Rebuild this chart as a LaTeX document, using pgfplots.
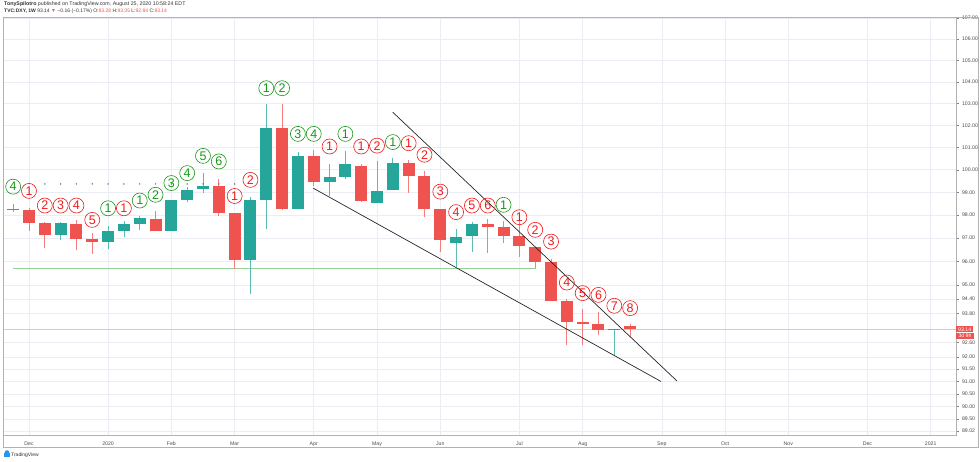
\documentclass[border=0pt]{standalone}
\usepackage{pgfplots}
\pgfplotsset{compat=1.18}
\usepackage{pgfplotstable}
\usepackage{fontspec}
\setmainfont{Liberation Sans}
\definecolor{candgreen}{RGB}{38,166,154}
\definecolor{candred}{RGB}{239,83,80}
\definecolor{tdgreen}{RGB}{25,150,25}
\definecolor{tdred}{RGB}{240,25,25}
\definecolor{gridc}{RGB}{234,238,244}
\definecolor{tdst}{RGB}{150,210,150}
\definecolor{tvblue}{RGB}{33,150,243}

\pgfplotstableread{
w O H L C
-1 98.22 98.49 98.14 98.25
0 98.23 98.33 97.33 97.65
1 97.65 97.68 96.57 97.14
2 97.14 97.69 96.90 97.65
3 97.62 97.79 96.49 96.98
4 96.98 97.22 96.32 96.85
5 96.85 97.54 96.52 97.30
6 97.30 97.72 97.04 97.60
7 97.62 97.97 97.36 97.87
8 97.85 98.16 97.33 97.33
9 97.33 98.67 97.33 98.67
10 98.67 99.23 98.57 99.11
11 99.14 99.85 98.99 99.28
12 99.28 99.60 97.94 98.09
13 98.09 98.09 95.68 96.07
14 96.07 98.79 94.62 98.67
15 98.67 102.97 97.40 101.90
16 101.90 102.97 98.22 98.27
17 98.27 100.81 98.27 100.63
18 100.62 100.89 99.28 99.45
19 99.45 100.26 98.84 99.67
20 99.67 100.84 99.60 100.25
21 100.17 100.26 98.59 98.64
22 98.52 100.37 98.52 99.06
23 99.08 100.52 99.08 100.32
24 100.32 100.44 98.96 99.74
25 99.74 99.95 97.91 98.27
26 98.27 98.27 96.42 96.90
27 96.81 97.40 95.75 97.04
28 97.07 97.68 96.40 97.62
29 97.62 97.82 96.35 97.47
30 97.46 97.76 96.78 97.11
31 97.11 97.72 96.21 96.64
32 96.61 96.61 95.71 95.98
33 95.98 96.11 94.33 94.33
34 94.33 94.40 92.50 93.44
35 93.46 93.98 92.50 93.37
36 93.37 93.88 92.91 93.09
37 93.09 93.17 92.02 93.17
38 93.28 93.35 92.84 93.14
}\ohlc

\pgfplotstableread{
w p n
-1 99.25 4
5 98.30 1
7 98.64 1
8 98.89 2
9 99.41 3
10 99.85 4
11 100.62 5
12 100.37 6
15 103.70 1
16 103.70 2
17 101.61 3
18 101.61 4
20 101.61 1
23 101.24 1
30 98.45 1
}\greenlabels

\pgfplotstableread{
w p n
0 99.06 1
1 98.42 2
2 98.42 3
3 98.42 4
4 97.79 5
6 98.30 1
13 98.84 1
14 99.55 2
19 101.04 1
21 101.04 1
22 101.08 2
24 101.19 1
25 100.67 2
26 99.03 3
27 98.13 4
28 98.42 5
29 98.42 6
31 97.91 1
32 97.36 2
33 96.85 3
34 95.10 4
35 94.65 5
36 94.58 6
37 94.12 7
38 94.02 8
}\redlabels

\pgfplotstablegetrowsof{\ohlc}
\pgfmathtruncatemacro\nrows{\pgfplotsretval-1}

\begin{document}
\begin{tikzpicture}
\begin{axis}[
  at={(3pt,26pt)}, anchor=south west,
  scale only axis, width=953pt, height=418pt,
  ymode=log,
  xmin=-1.643, xmax=58.6, ymin=88.86, ymax=107.05,
  clip=false,
  axis line style={draw=black!30, line width=0.5pt},
  xtick={0,5,9,13,18,22,26,31,35,40,44,48,53,57},
  xticklabels={Dec,2020,Feb,Mar,Apr,May,Jun,Jul,Aug,Sep,Oct,Nov,Dec,2021},
  ytick={89.02,89.5,90,90.5,91,91.5,92,92.6,93.8,94.4,95,96,97,98,99,100,101,102,103,104,105,106,107},
  yticklabels={89.02,89.50,90.00,90.50,91.00,91.50,92.00,92.60,93.80,94.40,95.00,96.00,97.00,98.00,99.00,100.00,101.00,102.00,103.00,104.00,105.00,106.00,107.00},
  yticklabel pos=right, ytick pos=right,
  xmajorgrids, ymajorgrids,
  major grid style={draw=gridc, line width=0.5pt},
  tick label style={font=\fontsize{5.2}{6}\selectfont, text=black!70},
  xtick style={draw=none},
  ytick style={draw=black!50, line width=0.4pt},
  tick align=outside, major tick length=2.5pt,
  minor tick num=0,
  xticklabel style={yshift=-1pt},
]
% TDST support line
\addplot[tdst, line width=0.7pt] coordinates {(-1,95.72) (32,95.72) (32,95.98)};
% dotted resistance
\addplot[only marks, mark=*, mark size=0.45pt, black!60] coordinates {(1,99.37) (2,99.37) (3,99.37) (4,99.37) (5,99.37) (6,99.37) (7,99.37) (8,99.37) (9,99.37) (10,99.37) (11,99.37) (12,99.37) (13,99.37)};
% last price line
\addplot[candred!40, line width=0.5pt] coordinates {(-1.643,93.14) (58.6,93.14)};

\pgfplotsforeachungrouped \i in {0,...,\nrows}{%
  \pgfplotstablegetelem{\i}{w}\of\ohlc \let\cw\pgfplotsretval
  \pgfplotstablegetelem{\i}{O}\of\ohlc \let\co\pgfplotsretval
  \pgfplotstablegetelem{\i}{H}\of\ohlc \let\ch\pgfplotsretval
  \pgfplotstablegetelem{\i}{L}\of\ohlc \let\cl\pgfplotsretval
  \pgfplotstablegetelem{\i}{C}\of\ohlc \let\cc\pgfplotsretval
  \ifdim\cc pt<\co pt \def\ccol{candred}\else\def\ccol{candgreen}\fi
  \edef\temp{%
    \noexpand\addplot[\ccol!75, line width=0.8pt] coordinates {(\cw,\cl) (\cw,\ch)};
    \noexpand\addplot[\ccol, line width=12pt] coordinates {(\cw,\co) (\cw,\cc)};
  }\temp
}

% trend lines
\addplot[black!85, line width=0.7pt] coordinates {(22.99,102.60) (40.96,91.02)};
\addplot[black!85, line width=0.7pt] coordinates {(17.97,99.18) (39.95,91.00)};

% TD sequential counts
\addplot[only marks, mark=none, nodes near coords, point meta=explicit symbolic,
  every node near coord/.append style={circle, draw=tdgreen, text=tdgreen, line width=0.6pt, inner sep=0pt, minimum size=15pt, anchor=center, font=\fontsize{12.5}{12.5}\selectfont}]
  table[x=w, y=p, meta=n] {\greenlabels};
\addplot[only marks, mark=none, nodes near coords, point meta=explicit symbolic,
  every node near coord/.append style={circle, draw=tdred, text=tdred, line width=0.6pt, inner sep=0pt, minimum size=15pt, anchor=center, font=\fontsize{12.5}{12.5}\selectfont}]
  table[x=w, y=p, meta=n] {\redlabels};

\node[fill=candred, text=white, anchor=west, inner xsep=2pt, inner ysep=1.2pt, font=\fontsize{5.2}{6}\selectfont] (pl) at (axis cs:58.6,93.14) {93.14};
\node[fill=candred, text=white, anchor=north west, inner xsep=2.3pt, inner ysep=1.2pt, font=\fontsize{5.2}{6}\selectfont] at (pl.south west) {3d 9h};
\end{axis}
\draw[black!30, line width=0.5pt] (3pt,14pt) rectangle (978pt,444pt);
\node[anchor=west, inner sep=0pt, font=\fontsize{5.3}{6}\selectfont, text=black!80] at (4pt,456.5pt) {\textbf{TonySpilotro} published on TradingView.com, August 25, 2020 10:58:24 EDT};
\node[anchor=west, inner sep=0pt, font=\fontsize{5}{6}\selectfont, text=black!80] at (4pt,450pt) {\textbf{TVC:DXY, 1W} 93.14 {\color{candred}▼} −0.16 (−0.17\%) O:{\color{candred}93.28} H:{\color{candred}93.35} L:{\color{candred}92.84} C:{\color{candred}93.14}};
\fill[tvblue] (4pt,4pt) rectangle (10pt,8pt);
\fill[tvblue] (7pt,8.5pt) circle (2.3pt);
\node[anchor=west, inner sep=0pt, font=\fontsize{5}{6}\selectfont, text=black!80] at (11pt,6pt) {TradingView};
\pgfresetboundingbox
\useasboundingbox (0,0) rectangle (980pt,461pt);
\end{tikzpicture}
\end{document}
